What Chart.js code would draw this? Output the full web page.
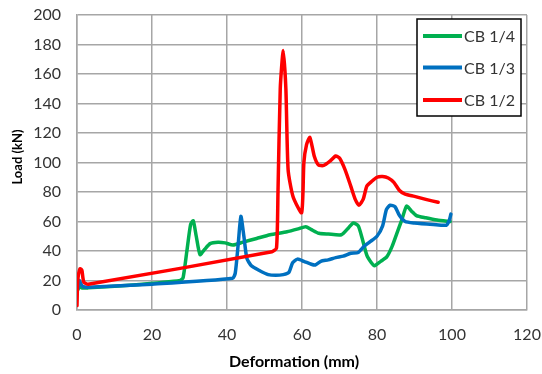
<!DOCTYPE html>
<html>
<head>
<meta charset="utf-8">
<script src="https://cdn.jsdelivr.net/npm/chart.js@4/dist/chart.umd.min.js"></script>
<style>
  html, body { margin: 0; padding: 0; background: #fff; }
  #wrap { width: 542px; height: 374px; position: relative; }
</style>
</head>
<body>
<div id="wrap"><canvas id="c" width="542" height="374"></canvas></div>
<script>
// ---- data ----
const seriesLabels = ['CB 1/4', 'CB 1/3', 'CB 1/2'];
const seriesColors = ['#00B050', '#0070C0', '#FF0000'];

const cb14X = [0.3, 0.6, 1.2, 3, 15, 27.5, 28.3, 29.3, 30.3, 31, 31.8, 32.8, 34, 35.5, 37.6, 39.5, 41.6, 44.3, 47.9, 51.5, 56, 59, 61, 62.5, 64.5, 67, 70.5, 72.5, 73.7, 75, 76, 77.3, 78.5, 79.3, 81, 82.6, 84, 85.3, 86.6, 87.9, 89.2, 90.5, 93, 96, 99.5];
const cb14Y = [14, 17, 15, 15, 17, 20, 22, 40, 58, 60.5, 50, 37.5, 41, 45, 46, 45.5, 44, 46, 48.5, 51, 53, 55, 56.5, 54.5, 52, 51.5, 51, 56, 59, 57, 49, 37, 32, 30, 33, 36, 43, 52, 61, 70.5, 67, 64, 62.5, 61, 60];

const cb13X = [0.3, 0.6, 1, 1.5, 3, 20, 41.5, 42.2, 43, 43.7, 44.5, 45.3, 46.5, 48.5, 51, 53, 55, 56.5, 57.5, 58.8, 60.5, 62.5, 63.5, 65, 67, 69, 71, 73, 75, 76.5, 78, 80, 81.5, 82.5, 83.5, 84.8, 86, 87.5, 90, 95, 98.5, 99.3, 99.7];
const cb13Y = [15, 20, 18, 16, 15.5, 17.5, 21.5, 25, 45, 63.5, 50, 35, 30, 27, 24, 23.5, 24, 25.5, 32, 34.5, 33, 31, 30.5, 33, 34, 35.5, 36.5, 38.5, 39, 43, 46, 50, 57, 68, 71, 70, 64, 60, 59, 58, 57.5, 61, 65];

const cb12X = [0, 0.2, 0.8, 1.3, 1.8, 3, 52, 53.2, 53.6, 54.2, 55, 55.7, 56.3, 57.6, 59.9, 60.5, 61.2, 62.1, 63.3, 64.4, 65.8, 67.5, 69, 70, 71.5, 73, 74.2, 75.2, 76.3, 77.3, 78.5, 80, 81.5, 83, 84.5, 86, 87.5, 90, 93, 96.3];
const cb12Y = [3, 20, 28, 27, 19, 17.5, 39.5, 42, 80, 150, 176, 150, 95, 77, 66, 100, 112, 117, 104, 98.3, 98, 101, 104.4, 103, 95, 84, 75, 71, 75, 84, 87, 90, 90.5, 89.5, 86.5, 81, 78.5, 77, 75, 73];

const xTicks = [0, 20, 40, 60, 80, 100, 120];
const yTicks = [0, 20, 40, 60, 80, 100, 120, 140, 160, 180, 200];
const xTitle = 'Deformation (mm)';
const yTitle = 'Load (kN)';

// ---- build ----
function pts(xs, ys) { return xs.map((x, i) => ({ x: x, y: ys[i] })); }
const seriesData = [pts(cb14X, cb14Y), pts(cb13X, cb13Y), pts(cb12X, cb12Y)];

const FONT = 'Lato';
const TEXT = '#333333';
const GRID = '#A6A6A6';

const decor = {
  id: 'decor',
  afterDraw(chart) {
    const ctx = chart.ctx;
    ctx.save();
    // axis titles
    ctx.fillStyle = '#000';
    ctx.textAlign = 'center';
    ctx.textBaseline = 'middle';
    ctx.font = 'bold 16px ' + FONT;
    ctx.fillText(xTitle, 294, 362);
    ctx.save();
    ctx.translate(18, 157);
    ctx.rotate(-Math.PI / 2);
    ctx.font = 'bold 13px ' + FONT;
    ctx.fillText(yTitle, 0, 0);
    ctx.restore();
    // legend box
    const x0 = 417, y0 = 19, w = 104, h = 97;
    ctx.fillStyle = '#ffffff';
    ctx.fillRect(x0, y0, w, h);
    ctx.strokeStyle = '#000000';
    ctx.lineWidth = 1.5;
    ctx.strokeRect(x0, y0, w, h);
    const rows = [36, 67.5, 100];
    ctx.font = '16px ' + FONT;
    ctx.textBaseline = 'middle';
    ctx.textAlign = 'left';
    chart.data.datasets.forEach((ds, i) => {
      ctx.strokeStyle = ds.borderColor;
      ctx.lineWidth = 4;
      ctx.lineCap = 'butt';
      ctx.beginPath();
      ctx.moveTo(423, rows[i]);
      ctx.lineTo(462, rows[i]);
      ctx.stroke();
      ctx.fillStyle = TEXT;
      ctx.fillText(ds.label, 464, rows[i] + 1);
    });
    ctx.restore();
  }
};

new Chart(document.getElementById('c'), {
  type: 'scatter',
  data: {
    datasets: seriesData.map((d, i) => ({
      label: seriesLabels[i],
      data: d,
      showLine: true,
      borderColor: seriesColors[i],
      backgroundColor: seriesColors[i],
      borderWidth: 3.5,
      pointRadius: 0,
      tension: 0.2,
      borderCapStyle: 'round',
      borderJoinStyle: 'round',
      order: 3 - i
    }))
  },
  options: {
    responsive: false,
    animation: false,
    devicePixelRatio: 1,
    layout: { padding: { left: 0, right: 15, top: 15, bottom: 0 } },
    plugins: { legend: { display: false }, tooltip: { enabled: false } },
    scales: {
      x: {
        type: 'linear', min: 0, max: 120,
        afterBuildTicks: s => { s.ticks = xTicks.map(v => ({ value: v })); },
        afterFit: s => { s.height = 64; s.paddingLeft = 0; s.paddingRight = 0; },
        grid: { color: GRID, lineWidth: 1.5, drawTicks: false },
        border: { color: GRID, width: 1.5 },
        ticks: { padding: 15, color: TEXT, font: { family: FONT, size: 16 } },
        title: { display: false }
      },
      y: {
        type: 'linear', min: 0, max: 200,
        afterBuildTicks: s => { s.ticks = yTicks.map(v => ({ value: v })); },
        afterFit: s => { s.width = 77; s.paddingTop = 0; s.paddingBottom = 0; },
        grid: { color: GRID, lineWidth: 1.5, drawTicks: false },
        border: { color: GRID, width: 1.5 },
        ticks: { padding: 16, color: TEXT, font: { family: FONT, size: 16 } },
        title: { display: false }
      }
    }
  },
  plugins: [decor]
});
</script>
</body>
</html>
